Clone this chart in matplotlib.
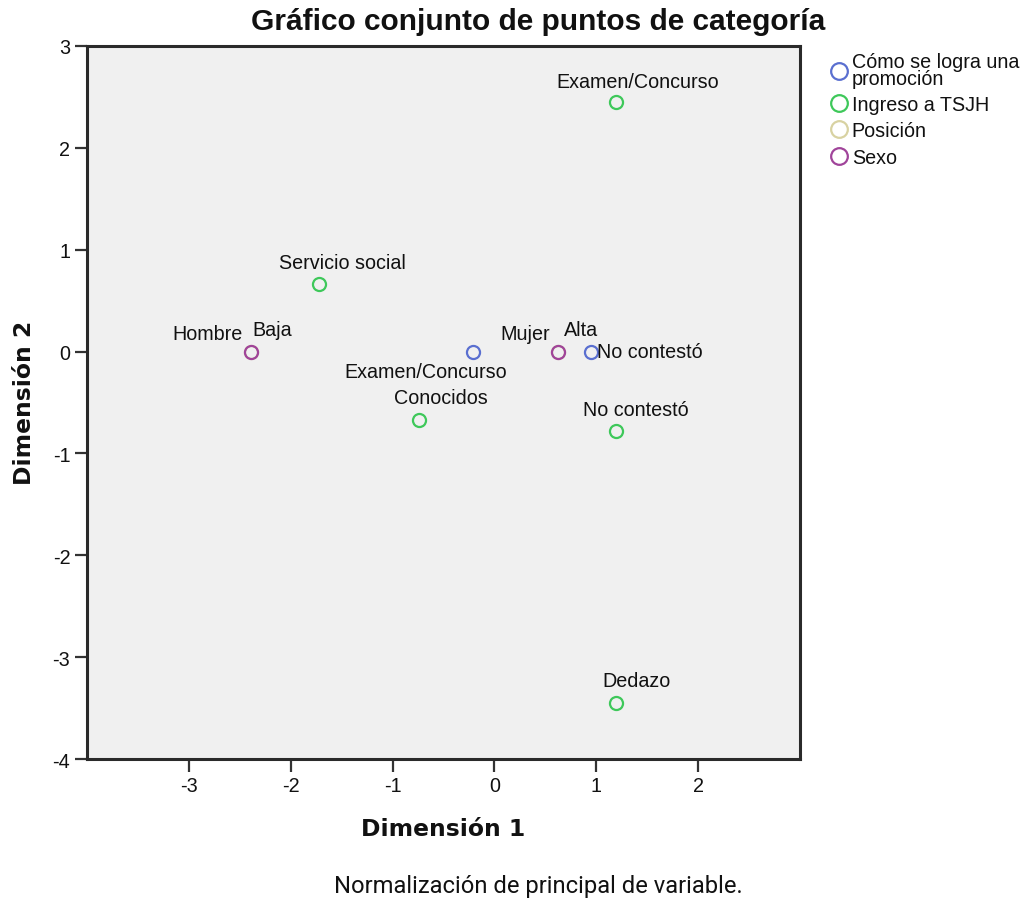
import matplotlib
matplotlib.use("Agg")
import matplotlib.pyplot as plt
from matplotlib.lines import Line2D

# Category point coordinates per variable (Dimensión 1, Dimensión 2)
promocion_labels = ["Examen/Concurso", "No contestó"]
promocion_x = [-0.21, 0.95]
promocion_y = [0.0, 0.0]

ingreso_labels = ["Examen/Concurso", "Servicio social", "Conocidos", "No contestó", "Dedazo"]
ingreso_x = [1.19, -1.72, -0.74, 1.19, 1.19]
ingreso_y = [2.45, 0.66, -0.67, -0.78, -3.45]

posicion_labels = ["Baja", "Alta"]
posicion_x = [-2.39, 0.62]
posicion_y = [0.0, 0.0]

sexo_labels = ["Hombre", "Mujer"]
sexo_x = [-2.39, 0.62]
sexo_y = [0.0, 0.0]

legend_names = ["Cómo se logra una\npromoción", "Ingreso a TSJH", "Posición", "Sexo"]
x_ticks = [-3, -2, -1, 0, 1, 2]
y_ticks = [-4, -3, -2, -1, 0, 1, 2, 3]

# Label placement (offset in pixels from the point, horizontal alignment)
promocion_offsets = [((-47, -20), "center"), ((6, 0), "left")]
ingreso_offsets = [((22, 21), "center"), ((23, 22), "center"), ((22, 22), "center"),
                   ((20, 22), "center"), ((21, 22), "center")]
posicion_offsets = [((21, 22), "center"), ((23, 22), "center")]
sexo_offsets = [((-8, 18), "right"), ((-8, 18), "right")]

colors = ["#5a6fd0", "#3ec85a", "#d8d2a2", "#a0449a"]

W, H = 1026, 903
fig = plt.figure(figsize=(W / 100, H / 100), dpi=100)
ax = fig.add_axes([87 / W, 1 - 760 / H, (800 - 87) / W, (760 - 47) / H])
ax.set_facecolor("#f0f0f0")

label_font = dict(family="Liberation Sans", fontsize=14.2, color="#111111")
PX = 72 / 100  # pixels -> points

series = [
    (promocion_x, promocion_y, promocion_labels, promocion_offsets, colors[0]),
    (ingreso_x, ingreso_y, ingreso_labels, ingreso_offsets, colors[1]),
    (posicion_x, posicion_y, posicion_labels, posicion_offsets, colors[2]),
    (sexo_x, sexo_y, sexo_labels, sexo_offsets, colors[3]),
]

for xs, ys, labels, offsets, col in series:
    ax.plot(xs, ys, linestyle="none", marker="o", markersize=9.4,
            markerfacecolor="none", markeredgecolor=col, markeredgewidth=1.6,
            zorder=3)
    for x, y, lab, ((dx, dy), ha) in zip(xs, ys, labels, offsets):
        ax.annotate(lab, (x, y), xytext=(dx * PX, dy * PX),
                    textcoords="offset points", ha=ha, va="center",
                    **label_font)

ax.set_xlim(-4, 3)
ax.set_ylim(-4, 3)
ax.set_xticks(x_ticks)
ax.set_yticks(y_ticks)
ax.set_xticklabels([str(t) for t in x_ticks])
ax.set_yticklabels([str(t) for t in y_ticks])
ax.tick_params(axis="both", direction="out", length=9, width=1.6,
               color="#333333", labelsize=14.2, labelcolor="#111111", pad=3)
for lab in ax.get_xticklabels() + ax.get_yticklabels():
    lab.set_family("Liberation Sans")
for s in ax.spines.values():
    s.set_linewidth(2.2)
    s.set_color("#2a2a2a")

# Axis titles
fig.text(443 / W, 1 - 830 / H, "Dimensión 1", ha="center", va="center",
         fontsize=16.9, fontweight="bold", family="DejaVu Sans", color="#111111")
fig.text(25 / W, 1 - 403 / H, "Dimensión 2", ha="center", va="center",
         rotation=90, fontsize=16.9, fontweight="bold", family="DejaVu Sans",
         color="#111111")

fig.text(538 / W, 1 - 22 / H, "Gráfico conjunto de puntos de categoría",
         ha="center", va="center", fontsize=21.5, fontweight="bold",
         family="Liberation Sans", color="#111111")

fig.text(538 / W, 1 - 887 / H, "Normalización de principal de variable.",
         ha="center", va="center", fontsize=17.1, family="Roboto",
         color="#111111")

# Legend
handles = [Line2D([], [], linestyle="none", marker="o", markersize=12,
                  markerfacecolor="none", markeredgecolor=c,
                  markeredgewidth=1.6) for c in colors]
leg = fig.legend(handles, legend_names, loc="upper left",
                 bbox_to_anchor=(830 / W, 1 - 53 / H), frameon=False,
                 handlelength=0.9, handletextpad=0.2, labelspacing=0.36,
                 borderpad=0, borderaxespad=0,
                 prop=dict(family="Liberation Sans", size=14.2))
for t in leg.get_texts():
    t.set_linespacing(0.88)
    t.set_color("#111111")

fig.savefig("out.png", dpi=100)
